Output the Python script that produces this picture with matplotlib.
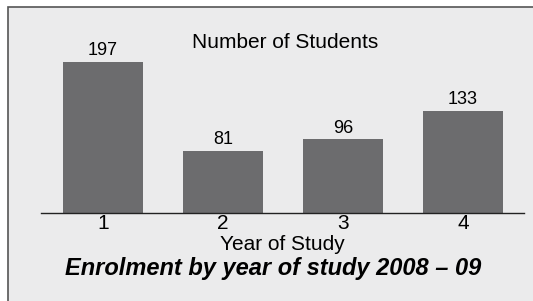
import matplotlib.pyplot as plt
from matplotlib.patches import Rectangle

# data
years = [1, 2, 3, 4]
year_labels = ['1', '2', '3', '4']
students = [197, 81, 96, 133]

bg = '#ebebec'
bar_col = '#6c6c6e'
plt.rcParams['font.family'] = ['Liberation Sans', 'DejaVu Sans']

W, H = 533, 301
fig = plt.figure(figsize=(W / 100, H / 100), dpi=100, facecolor='white')

# grey panel with a border (only top and left visible)
fig.patches.append(Rectangle((8 / W, -0.1), 1.2, (H - 7) / H + 0.1,
                             transform=fig.transFigure, facecolor=bg,
                             edgecolor='#555555', linewidth=1.2, zorder=-5))

ax = fig.add_axes([41 / W, (H - 213) / H, (524 - 41) / W, (213 - 7) / H])
ax.set_facecolor('none')

bars = ax.bar(years, students, width=0.667, color=bar_col)
for b, v in zip(bars, students):
    ax.annotate(str(v), (b.get_x() + b.get_width() / 2, v), xytext=(0, 2),
                textcoords='offset points', ha='center', va='bottom', fontsize=13)

ax.set_xlim(0.483, 4.508)
ax.set_ylim(0, 268.6)
ax.set_xticks(years)
ax.set_xticklabels(year_labels, fontsize=15)
ax.set_yticks([])
ax.tick_params(axis='x', length=0, pad=1)
for s in ['top', 'right', 'left']:
    ax.spines[s].set_visible(False)
ax.spines['bottom'].set_linewidth(1.0)
ax.spines['bottom'].set_color('#222222')

ax.set_xlabel('Year of Study', fontsize=15, labelpad=1)
ax.text(0.505, 0.83, 'Number of Students', transform=ax.transAxes,
        ha='center', va='center', fontsize=15)

fig.text(273 / W, 1 - 269 / H, 'Enrolment by year of study 2008 – 09',
         ha='center', va='center', fontsize=17, fontweight='bold', style='italic')

fig.savefig('out.png', dpi=100, facecolor='white')
